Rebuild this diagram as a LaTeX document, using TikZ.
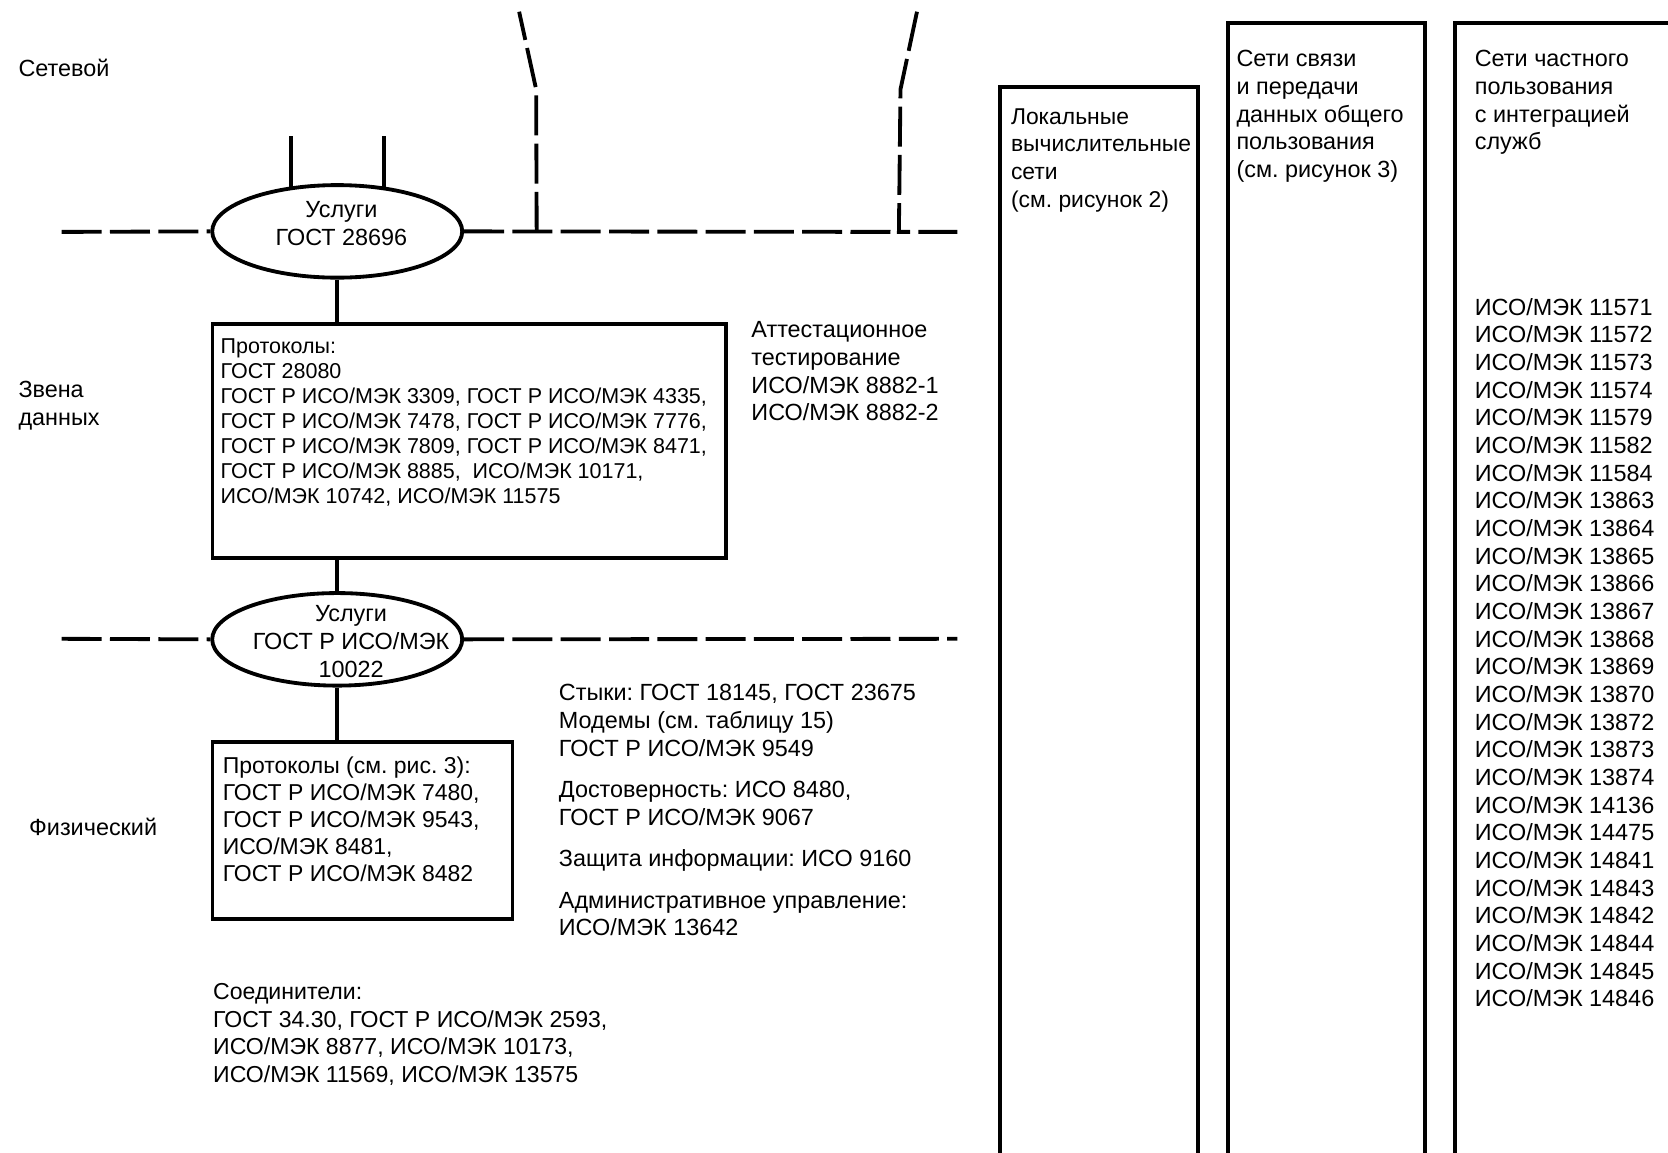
\documentclass[tikz,border=0pt]{standalone}
\usepackage{fontspec}
\setmainfont{Liberation Sans}
\usetikzlibrary{shapes.geometric}
\frenchspacing

\tikzset{
  txt/.style = {anchor=north west, inner sep=0pt, align=left, font=\fontsize{11}{13}\selectfont},
  smalltxt/.style = {txt, font=\fontsize{10.1}{11.75}\selectfont},
  boxtxt/.style = {txt, font=\fontsize{10.8}{12.75}\selectfont},
  svc/.style = {draw, ellipse, line width=1.8pt, minimum width=117.5pt, minimum height=43.5pt, inner sep=0pt},
  svctxt/.style = {inner sep=0pt, align=center, font=\fontsize{11}{13.25}\selectfont},
  box/.style = {draw, line width=1.8pt, anchor=north west, inner sep=0pt},
  wire/.style = {line width=1.8pt},
  bus/.style = {line width=1.8pt, dash pattern=on 18.8pt off 3.9pt},
}

\begin{document}
\begin{tikzpicture}[x=0.5pt, y=-0.5pt]
\useasboundingbox (0,0) rectangle (1568,1083);

% levels
\node[txt] (lvlnet) at (17,55) {Сетевой};
\node[txt] (lvllink) at (17,358) {Звена\\данных};
\node[txt] (lvlphys) at (27,769) {Физический};

% network level
\node[svc] (svcnet) at (317,217.5) {};
\node[svctxt] (svcnettxt) at (321,210) {Услуги\\ГОСТ 28696};
\coordinate (netL) at (58,218);
\coordinate (jA) at (504.5,218);
\coordinate (kA) at (504,84);
\coordinate (tA) at (488,11);
\coordinate (jB) at (845,218);
\coordinate (kB) at (846.5,84);
\coordinate (tB) at (862,11);
\coordinate (netR) at (900,218);
\coordinate (upY) at (0,128);
\draw[bus] (netL) -- (svcnet.west);
\draw[bus] (svcnet.east) -- (jB);
\draw[bus] (jA) -- (kA) -- (tA);
\draw[bus] (tB) -- (kB) -- (jB) -- (netR);
\draw[wire] (svcnet.136) -- (svcnet.136 |- upY);
\draw[wire] (svcnet.44) -- (svcnet.44 |- upY);

% data link level
\node[box, minimum width=241.5pt, minimum height=110pt] (proto) at (198,303) {};
\node[smalltxt] (prototxt) at (207,318) {Протоколы:\\ГОСТ 28080\\ГОСТ Р ИСО/МЭК 3309, ГОСТ Р ИСО/МЭК 4335,\\ГОСТ Р ИСО/МЭК 7478, ГОСТ Р ИСО/МЭК 7776,\\ГОСТ Р ИСО/МЭК 7809, ГОСТ Р ИСО/МЭК 8471,\\ГОСТ Р ИСО/МЭК 8885,\ \ ИСО/МЭК 10171,\\ИСО/МЭК 10742, ИСО/МЭК 11575};
\draw[wire] (svcnet.south) -- (svcnet.south |- proto.north);
\node[txt] (attest) at (706,302) {Аттестационное\\тестирование\\ИСО/МЭК 8882-1\\ИСО/МЭК 8882-2};

% physical level
\node[svc] (svcphys) at (317,601) {};
\node[svctxt] (svcphystxt) at (330,603) {Услуги\\ГОСТ Р ИСО/МЭК\\10022};
\coordinate (physL) at (58,600.5);
\coordinate (physR) at (900,600.5);
\draw[bus] (physL) -- (svcphys.west);
\draw[bus] (svcphys.east) -- (physR);
\draw[wire] (proto.south -| svcphys.north) -- (svcphys.north);
\node[box, minimum width=141pt, minimum height=83pt] (physproto) at (198,696) {};
\draw[wire] (svcphys.south) -- (svcphys.south |- physproto.north);
\node[boxtxt] (physprototxt) at (209,711) {Протоколы (см. рис. 3):\\ГОСТ Р ИСО/МЭК 7480,\\ГОСТ Р ИСО/МЭК 9543,\\ИСО/МЭК 8481,\\ГОСТ Р ИСО/МЭК 8482};
\node[txt] (iface) at (525,643) {Стыки: ГОСТ 18145, ГОСТ 23675\\Модемы (см. таблицу 15)\\ГОСТ Р ИСО/МЭК 9549\\[6.5pt]Достоверность: ИСО 8480,\\ГОСТ Р ИСО/МЭК 9067\\[6.5pt]Защита информации: ИСО 9160\\[6.5pt]Административное управление:\\ИСО/МЭК 13642};
\node[txt, font=\fontsize{10.85}{13}\selectfont] (conn) at (200,924) {Соединители:\\ГОСТ 34.30, ГОСТ Р ИСО/МЭК 2593,\\ИСО/МЭК 8877, ИСО/МЭК 10173,\\ИСО/МЭК 11569, ИСО/МЭК 13575};

% network classes
\draw[wire] (940,1095) |- (1126,81.5) -- (1126,1095);
\draw[wire] (1154,1095) |- (1339.5,21.5) -- (1339.5,1095);
\draw[wire] (1368,1095) |- (1580,21.5);
\node[txt, font=\fontsize{10.75}{13}\selectfont] (lan) at (950,101.5) {Локальные\\вычислительные\\сети\\(см. рисунок 2)};
\node[txt] (pub) at (1162,47) {Сети связи\\и передачи\\данных общего\\пользования\\(см. рисунок 3)};
\node[txt] (isdn) at (1386,47) {Сети частного\\пользования\\с интеграцией\\служб};
\node[txt] (isdnlist) at (1386,280) {ИСО/МЭК 11571\\ИСО/МЭК 11572\\ИСО/МЭК 11573\\ИСО/МЭК 11574\\ИСО/МЭК 11579\\ИСО/МЭК 11582\\ИСО/МЭК 11584\\ИСО/МЭК 13863\\ИСО/МЭК 13864\\ИСО/МЭК 13865\\ИСО/МЭК 13866\\ИСО/МЭК 13867\\ИСО/МЭК 13868\\ИСО/МЭК 13869\\ИСО/МЭК 13870\\ИСО/МЭК 13872\\ИСО/МЭК 13873\\ИСО/МЭК 13874\\ИСО/МЭК 14136\\ИСО/МЭК 14475\\ИСО/МЭК 14841\\ИСО/МЭК 14843\\ИСО/МЭК 14842\\ИСО/МЭК 14844\\ИСО/МЭК 14845\\ИСО/МЭК 14846};
\end{tikzpicture}
\end{document}
